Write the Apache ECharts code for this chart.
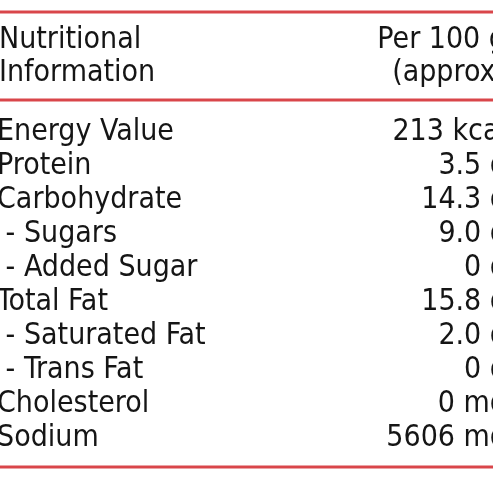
<!DOCTYPE html>
<html><head><meta charset="utf-8">
<script src="https://cdn.jsdelivr.net/npm/echarts@6/dist/echarts.min.js"></script>
<style>html,body{margin:0;padding:0;background:#fff}#c{width:493px;height:493px}</style>
</head><body><div id="c"></div>
<script>
// table rows
const nutrients = ['Energy Value', 'Protein', 'Carbohydrate', ' - Sugars', ' - Added Sugar', 'Total Fat', ' - Saturated Fat', ' - Trans Fat', 'Cholesterol', 'Sodium'];
const amounts = ['213 kcal', '3.5 g', '14.3 g', '9.0 g', '0 g', '15.8 g', '2.0 g', '0 g', '0 mg', '5606 mg'];
const headerLeft = ['Nutritional', 'Information'];
const headerRight = ['Per 100 g', '(approx)'];

const font = "'Liberation Sans Narrow', 'DejaVu Sans Condensed', 'Roboto Condensed', sans-serif";
const ink = '#151515';
const red = '#d9464a';

const chart = echarts.init(document.getElementById('c'));
chart.setOption({
  animation: false,
  grid: { left: 0, right: 0, top: 115, bottom: 38 },
  xAxis: { type: 'value', min: 0, max: 493, show: false },
  yAxis: { type: 'category', data: nutrients, inverse: true, show: false },
  graphic: [
    { type: 'line', shape: { x1: 0, y1: 12, x2: 493, y2: 12 }, style: { stroke: red, lineWidth: 3 } },
    { type: 'line', shape: { x1: 0, y1: 100, x2: 493, y2: 100 }, style: { stroke: red, lineWidth: 3 } },
    { type: 'line', shape: { x1: 0, y1: 467, x2: 493, y2: 467 }, style: { stroke: red, lineWidth: 3 } },
    ...headerLeft.map((t, i) => ({ type: 'text', left: -1, top: 25 + i * 33,
      style: { text: t, font: '30px ' + font, fill: ink } })),
    ...headerRight.map((t, i) => ({ type: 'text', x: 506, y: 25 + i * 33,
      style: { text: t, font: '30px ' + font, fill: ink, align: 'right' } }))
  ],
  series: [
    {
      type: 'scatter', symbolSize: 0, clip: false, silent: true, itemStyle: { opacity: 1 },
      data: nutrients.map(n => [-3, n]),
      label: { show: true, position: 'right', distance: 0, formatter: p => nutrients[p.dataIndex],
        fontSize: 30, fontFamily: font, color: ink, opacity: 1 }
    },
    {
      type: 'scatter', symbolSize: 0, clip: false, silent: true, itemStyle: { opacity: 1 },
      data: nutrients.map(n => [507, n]),
      label: { show: true, position: 'left', distance: 0, formatter: p => amounts[p.dataIndex],
        fontSize: 30, fontFamily: font, color: ink, opacity: 1 }
    }
  ]
});
</script></body></html>
